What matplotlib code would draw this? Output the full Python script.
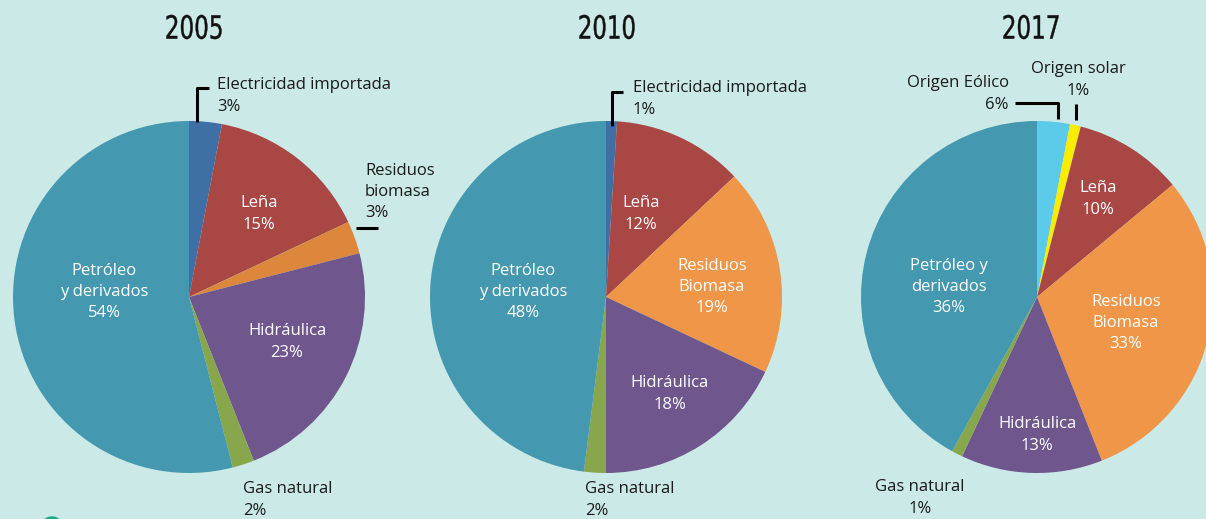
import matplotlib.pyplot as plt
from matplotlib.patches import Circle, PathPatch
from matplotlib.textpath import TextPath
from matplotlib.font_manager import FontProperties
from matplotlib.transforms import Affine2D

# Energy mix shares (wedge sizes as drawn) and the printed labels
years = ['2005', '2010', '2017']

labels_2005 = ['Electricidad importada', 'Leña', 'Residuos biomasa', 'Hidráulica', 'Gas natural', 'Petróleo y derivados']
sizes_2005 = [3, 15, 3, 23, 2, 54]
pct_2005 = ['3%', '15%', '3%', '23%', '2%', '54%']

labels_2010 = ['Electricidad importada', 'Leña', 'Residuos Biomasa', 'Hidráulica', 'Gas natural', 'Petróleo y derivados']
sizes_2010 = [1, 12, 19, 18, 2, 48]
pct_2010 = ['1%', '12%', '19%', '18%', '2%', '48%']

labels_2017 = ['Origen Eólico', 'Origen solar', 'Leña', 'Residuos Biomasa', 'Hidráulica', 'Gas natural', 'Petróleo y derivados']
sizes_2017 = [3, 1, 10, 30, 13, 1, 42]
pct_2017 = ['6%', '1%', '10%', '33%', '13%', '1%', '36%']

bg = '#cbe9e6'
c_elec = '#3e6fa5'
c_lena = '#a94745'
c_res05 = '#dc873c'
c_res = '#ef9649'
c_hidro = '#6f568c'
c_gas = '#88a64b'
c_petro = '#4499b0'
c_eol = '#5ccae9'
c_sol = '#f8ec00'

colors_2005 = [c_elec, c_lena, c_res05, c_hidro, c_gas, c_petro]
colors_2010 = [c_elec, c_lena, c_res, c_hidro, c_gas, c_petro]
colors_2017 = [c_eol, c_sol, c_lena, c_res, c_hidro, c_gas, c_petro]

W, H = 1206, 519
fig = plt.figure(figsize=(W / 100, H / 100), dpi=100, facecolor=bg)
ax = fig.add_axes([0, 0, 1, 1])
ax.set_facecolor(bg)

def Y(y):
    # convert from top-down pixel position to axes coordinate
    return H - y

R = 176
centers = [(189, Y(297)), (606, Y(297)), (1037, Y(297))]
for sizes, cols, c in zip([sizes_2005, sizes_2010, sizes_2017],
                          [colors_2005, colors_2010, colors_2017], centers):
    ax.pie(sizes, colors=cols, startangle=90, counterclock=False,
           center=c, radius=R, wedgeprops=dict(linewidth=0))

ax.set_xlim(0, W)
ax.set_ylim(0, H)
ax.set_aspect('equal')
ax.axis('off')

# condensed year titles: text path squeezed horizontally
tprop = FontProperties(family='DejaVu Sans', weight='normal')
for yr, cx in zip(years, [194, 607, 1031]):
    tp = TextPath((0, 0), yr, size=32, prop=tprop)
    ext = tp.get_extents()
    sx = 55 / ext.width
    tr = Affine2D().translate(-(ext.x0 + ext.x1) / 2, -(ext.y0 + ext.y1) / 2).scale(sx, 1).translate(cx, Y(27))
    ax.add_patch(PathPatch(tr.transform_path(tp), facecolor='#111111', edgecolor='#111111', lw=0.3))

lf = dict(family=['Open Sans', 'DejaVu Sans'], fontsize=12, linespacing=1.45)
white = dict(color='white', ha='center', va='center', **lf)
dark = dict(color='#1a1a1a', va='center', **lf)

# 2005
ax.text(217, Y(96), labels_2005[0] + '\n' + pct_2005[0], ha='left', **dark)
ax.text(259, Y(214), labels_2005[1] + '\n' + pct_2005[1], **white)
ax.text(365, Y(192), 'Residuos\nbiomasa\n' + pct_2005[2], ha='left', **dark)
ax.text(287, Y(342), labels_2005[3] + '\n' + pct_2005[3], **white)
ax.text(104, Y(292), 'Petróleo\ny derivados\n' + pct_2005[5], **white)
ax.text(243, Y(500), labels_2005[4] + '\n' + pct_2005[4], ha='left', **dark)

# 2010
ax.text(633, Y(99), labels_2010[0] + '\n' + pct_2010[0], ha='left', **dark)
ax.text(641, Y(214), labels_2010[1] + '\n' + pct_2010[1], **white)
ax.text(712, Y(287), 'Residuos\nBiomasa\n' + pct_2010[2], **white)
ax.text(670, Y(394), labels_2010[3] + '\n' + pct_2010[3], **white)
ax.text(523, Y(292), 'Petróleo\ny derivados\n' + pct_2010[5], **white)
ax.text(585, Y(500), labels_2010[4] + '\n' + pct_2010[4], ha='left', **dark)

# 2017
ax.text(1009, Y(94), labels_2017[0] + '\n' + pct_2017[0], ha='right', multialignment='right', **dark)
ax.text(1078, Y(80), labels_2017[1] + '\n' + pct_2017[1], ha='center', **dark)
ax.text(1098, Y(199), labels_2017[2] + '\n' + pct_2017[2], **white)
ax.text(1126, Y(323), 'Residuos\nBiomasa\n' + pct_2017[3], **white)
ax.text(1037, Y(435), labels_2017[4] + '\n' + pct_2017[4], **white)
ax.text(949, Y(287), 'Petróleo y\nderivados\n' + pct_2017[6], **white)
ax.text(920, Y(498), labels_2017[5] + '\n' + pct_2017[5], ha='center', **dark)

# leader lines
lk = dict(color='black', lw=2.2, solid_capstyle='butt')
ax.plot([197, 197, 209], [Y(122), Y(88), Y(88)], **lk)
ax.plot([356, 378], [Y(228), Y(228)], **lk)
ax.plot([612, 612, 623], [Y(126), Y(92), Y(92)], **lk)
ax.plot([1015, 1058, 1058], [Y(103), Y(103), Y(119)], **lk)
ax.plot([1076, 1076], [Y(104), Y(120)], **lk)

# decorative dot cut by the bottom edge
ax.add_patch(Circle((52, Y(528)), 11, color='#19a985', clip_on=True))

fig.savefig('out.png', dpi=100, facecolor=bg)
